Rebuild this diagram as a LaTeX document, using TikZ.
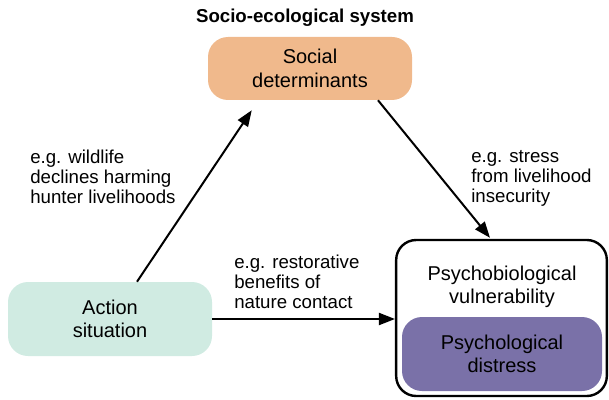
\documentclass[tikz,border=0pt]{standalone}
\usepackage{fontspec}
\setmainfont{Liberation Sans}
\usetikzlibrary{arrows.meta,calc}
\definecolor{peach}{RGB}{240,185,140}
\definecolor{mint}{RGB}{208,235,226}
\definecolor{lilac}{RGB}{122,113,168}

\begin{document}
\begin{tikzpicture}[x=0.75pt,y=-0.75pt,
	box/.style={rounded corners=15pt, align=center, inner sep=0pt,
		font=\fontsize{15}{17.5}\selectfont},
	note/.style={align=left, anchor=base west, inner sep=0pt,
		font=\fontsize{14}{15}\selectfont},
	link/.style={line width=1.5pt, -{Triangle[length=12pt,width=9pt]}}]
	\useasboundingbox (0,0) rectangle (609,399);
	% title
	\node (title) at (305,18) {\fontsize{14}{16}\selectfont\bfseries Socio-ecological system};
	% boxes
	\node [box, fill=peach, minimum width=153pt, minimum height=47.25pt] (soc) at (310,68.5) {Social\\determinants};
	\node [box, fill=mint, minimum width=153pt, minimum height=55.5pt] (act) at (110,319) {Action\\situation};
	\node [box, draw, line width=1.8pt, minimum width=158pt, minimum height=117pt] (psy) at (501.5,318) {};
	\node [box, inner sep=0pt] (vul) at (502,287) {Psychobiological\\vulnerability};
	\node [box, fill=lilac, minimum width=150pt, minimum height=55.5pt] (dis) at (502,354) {Psychological\\distress};
	% links
	\draw [link] ($(act.north)+(27,0)$) -- ($(soc.south west)+(44,10)$);
	\draw [link] ($(soc.south)+(68,0)$) -- ($(psy.north)+(-11.5,-1)$);
	\draw [link] (act.east) -- (act.east -| psy.west);
	% notes (base = last line)
	\node [note] (n1) at (30,203) {e.g. wildlife\\declines harming\\hunter livelihoods};
	\node [note] (n2) at (471,202) {e.g. stress\\from livelihood\\insecurity};
	\node [note] (n3) at (234,308) {e.g. restorative\\benefits of\\nature contact};
\end{tikzpicture}
\end{document}
